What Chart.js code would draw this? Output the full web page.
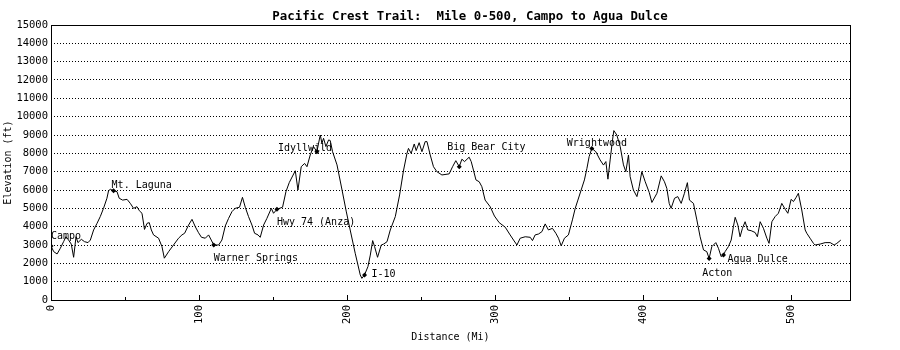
<!DOCTYPE html>
<html>
<head>
<meta charset="utf-8">
<script src="https://cdn.jsdelivr.net/npm/chart.js@4.4.1/dist/chart.umd.min.js"></script>
<style>
  body { margin: 0; background: #fff; }
  canvas { display: block; }
</style>
</head>
<body>
<canvas id="profile" width="900" height="350"></canvas>
<script>
const miles = [
  0, 1.8, 4.1, 6.3, 8.5, 10.1, 11.9, 13.7, 15.3, 16.9, 18.2, 20.5, 22.7, 25.0, 26.6, 28.8,
  31.1, 33.3, 35.5, 37.8, 38.9, 40.1, 42.3, 44.6, 46.1, 48.4, 51.4, 53.6, 55.8, 58.1, 59.7,
  61.5, 63.2, 64.9, 66.4, 67.8, 69.3, 72.7, 75.0, 76.6, 79.5, 82.8, 86.2, 88.5, 90.3, 93.0,
  95.3, 97.5, 99.7, 101.7, 104.3, 106.5, 108.3, 110.0, 113.3, 115.5, 117.8, 120.0, 122.3,
  124.5, 127.4, 129.4, 131.3, 133.5, 135.8, 137.6, 139.9, 141.4, 143.7, 145.9, 148.9, 150.4,
  152.7, 156.5, 158.8, 161.0, 165.1, 166.9, 169.1, 171.4, 173.0, 175.2, 177.4, 179.7, 181.3,
  182.0, 183.1, 184.2, 185.8, 187.6, 188.7, 190.3, 193.3, 196.7, 199.5, 202.2, 205.6, 209.0,
  210.1, 211.9, 214.2, 215.8, 217.4, 218.7, 220.7, 223.2, 224.8, 227.1, 229.3, 232.7, 235.6,
  238.3, 240.6, 241.6, 243.4, 245.5, 246.8, 248.8, 250.7, 252.9, 254.1, 256.3, 258.5, 260.8,
  264.2, 269.1, 271.4, 273.6, 275.9, 277.7, 279.5, 282.6, 284.0, 285.5, 287.2, 289.4, 291.2,
  293.4, 296.8, 299.7, 302.9, 307.0, 310.3, 312.6, 314.9, 317.1, 320.5, 323.9, 325.4, 327.2,
  329.5, 331.8, 334.0, 336.2, 338.9, 341.2, 343.0, 344.8, 347.0, 349.7, 352.4, 354.3, 356.1,
  358.3, 360.5, 362.2, 363.7, 365.5, 368.2, 371.1, 373.4, 375.0, 376.4, 377.9, 379.5, 380.4,
  382.4, 384.7, 386.9, 388.5, 390.3, 391.4, 393.6, 396.0, 397.5, 399.3, 401.6, 404.3, 406.1,
  409.5, 412.4, 414.6, 416.2, 417.8, 419.1, 421.4, 423.6, 425.9, 428.1, 430.1, 431.5, 434.2,
  436.5, 438.7, 441.0, 443.2, 444.8, 446.6, 449.3, 451.1, 452.9, 454.5, 455.6, 457.8, 459.7,
  461.2, 462.4, 464.2, 465.7, 467.3, 469.1, 470.9, 473.2, 475.9, 477.4, 479.3, 481.5, 483.8,
  485.3, 487.2, 489.4, 491.6, 493.9, 496.2, 498.0, 500.2, 501.8, 503.6, 505.1, 507.4, 509.7,
  510.8, 513.0, 515.3, 516.4, 519.8, 523.2, 526.6, 529.3, 531.1, 533.8
];
const elevation = [
  2950, 2640, 2510, 2820, 3180, 3450, 3270, 3050, 2330, 3450, 3130, 3310, 3180, 3130, 3270, 3820,
  4180, 4550, 5000, 5550, 5960, 6040, 5960, 5910, 5550, 5450, 5490, 5270, 5000, 5090, 4870,
  4730, 3850, 4180, 4220, 3820, 3550, 3370, 2910, 2280, 2640, 3000, 3370, 3550, 3640, 4090,
  4400, 4000, 3670, 3420, 3370, 3550, 3270, 3000, 3000, 3270, 4040, 4450, 4820,
  5000, 5060, 5600, 5060, 4550, 4090, 3640, 3550, 3420, 4090, 4450, 5000, 4730,
  4950, 5060, 5910, 6400, 7050, 6000, 7270, 7450, 7270, 7910, 8370, 8090, 8730,
  9000, 8550, 8820, 8370, 8730, 8700, 8090, 7370, 6000, 4850, 3820, 2550, 1370,
  1180, 1370, 1820, 2450, 3240, 2910, 2330, 3000, 3050, 3180, 3820, 4550, 5730,
  7090, 8000, 8270, 8000, 8510, 8150, 8580, 8090, 8640, 8640, 7910, 7270, 7000,
  6820, 6880, 7270, 7600, 7270, 7680, 7550, 7790, 7550, 7090, 6550, 6450, 6180,
  5450, 5090, 4580, 4220, 3970, 3550, 3270, 3000, 3370, 3450, 3420, 3240, 3550,
  3600, 3730, 4150, 3820, 3910, 3640, 3370, 2950, 3370, 3550, 4370, 5000, 5450,
  6000, 6550, 7180, 7820, 8270, 8090, 7640, 7360, 7550, 6590, 7640, 8730, 9240,
  9000, 8370, 7370, 7000, 7910, 6730, 6000, 5640, 6180, 7000, 6450, 5870, 5320,
  5820, 6770, 6450, 6090, 5270, 5000, 5550, 5640, 5270, 5820, 6400, 5450, 5270,
  4370, 3450, 2730, 2640, 2270, 2910, 3130, 2820, 2370, 2450, 2640, 2910, 3270,
  4000, 4510, 4090, 3450, 3910, 4270, 3820, 3780, 3680, 3450, 4270, 3910, 3370,
  3090, 4270, 4550, 4730, 5270, 4950, 4730, 5490, 5370, 5600, 5820, 4910, 3820,
  3640, 3370, 3090, 3000, 3050, 3130, 3130, 3000, 3090, 3270
];

const landmarkNames = [
  "Campo", "Mt. Laguna", "Warner Springs", "Hwy 74 (Anza)", "Idyllwild",
  "I-10", "Big Bear City", "Wrightwood", "Acton", "Agua Dulce"
];
const landmarkMiles = [0, 42.3, 110.0, 152.7, 179.7, 211.9, 275.9, 365.5, 444.8, 454.5];
const landmarkElevation = [2950, 5960, 3000, 4950, 8090, 1370, 7270, 8270, 2270, 2450];

const xTickValues = [0, 100, 200, 300, 400, 500];
const yTickValues = [0, 1000, 2000, 3000, 4000, 5000, 6000, 7000, 8000,
  9000, 10000, 11000, 12000, 13000, 14000, 15000];

// name placement next to each marker, in pixels (dx, dy)
const labelOffsets = [
  [0, -10], [-2, -5], [0, 13], [0, 13], [-39, -3],
  [7, 0], [-12, -19], [-25, -5], [-7, 15], [4, 4]
];

const MONO = "'DejaVu Sans Mono', monospace";
const TITLE = "Pacific Crest Trail:  Mile 0-500, Campo to Agua Dulce";

const frame = {
  id: "frame",
  beforeDraw(chart) {
    const ctx = chart.ctx;
    ctx.save();
    ctx.fillStyle = "#fff";
    ctx.fillRect(0, 0, chart.width, chart.height);
    ctx.restore();
  },
  afterDatasetsDraw(chart) {
    const ctx = chart.ctx;
    const meta = chart.getDatasetMeta(1);
    ctx.save();
    ctx.fillStyle = "#000";
    ctx.font = "10px " + MONO;
    ctx.textAlign = "left";
    ctx.textBaseline = "middle";
    meta.data.forEach(function (pt, i) {
      const off = labelOffsets[i];
      ctx.fillText(landmarkNames[i], pt.x + off[0], pt.y + off[1]);
    });
    ctx.restore();
  },
  afterDraw(chart) {
    const ctx = chart.ctx;
    const a = chart.chartArea;
    const x = chart.scales.x;
    ctx.save();
    ctx.strokeStyle = "#000";
    ctx.lineWidth = 1;
    ctx.strokeRect(Math.round(a.left) + 0.5, Math.round(a.top) + 0.5,
      Math.round(a.right - a.left), Math.round(a.bottom - a.top));

    // tick marks point up into the plot: long at 100s, short at 50s
    ctx.beginPath();
    for (let v = 0; v <= x.max; v += 50) {
      const px = Math.round(x.getPixelForValue(v)) + 0.5;
      const len = v % 100 === 0 ? 5 : 3;
      ctx.moveTo(px, a.bottom);
      ctx.lineTo(px, a.bottom - len);
    }
    ctx.stroke();

    ctx.fillStyle = "#000";
    ctx.font = "bold 12.4px " + MONO;
    ctx.textAlign = "center";
    ctx.textBaseline = "middle";
    ctx.fillText(TITLE, 470, 17);
    ctx.restore();
  }
};

const ctx = document.getElementById("profile").getContext("2d");
const profileChart = new Chart(ctx, {
  type: "line",
  data: {
    datasets: [
      {
        label: "Elevation",
        data: miles.map(function (m, i) { return { x: m, y: elevation[i] }; }),
        borderColor: "#000",
        borderWidth: 1,
        pointRadius: 0,
        tension: 0,
        fill: false
      },
      {
        label: "Landmarks",
        data: landmarkMiles.map(function (m, i) { return { x: m, y: landmarkElevation[i] }; }),
        showLine: false,
        pointStyle: "rectRot",
        pointRadius: 2.5,
        backgroundColor: "#000",
        borderColor: "#000",
        borderWidth: 0
      }
    ]
  },
  options: {
    responsive: false,
    animation: false,
    layout: { padding: { top: 25, right: 50, left: 0, bottom: 0 } },
    plugins: {
      legend: { display: false },
      tooltip: { enabled: false }
    },
    scales: {
      x: {
        type: "linear",
        min: 0,
        max: 540,
        afterBuildTicks: function (scale) {
          scale.ticks = xTickValues.map(function (v) { return { value: v }; });
        },
        afterFit: function (scale) { scale.height = 50; },
        grid: { display: false, drawTicks: false },
        border: { display: false },
        ticks: {
          minRotation: 90,
          maxRotation: 90,
          padding: 5,
          color: "#000",
          font: { family: MONO, size: 10.5 },
          callback: function (v) { return String(v); }
        },
        title: {
          display: true,
          text: "Distance (Mi)",
          color: "#000",
          font: { family: MONO, size: 10 },
          padding: { top: 0, bottom: 7 }
        }
      },
      y: {
        min: 0,
        max: 15000,
        afterBuildTicks: function (scale) {
          scale.ticks = yTickValues.map(function (v) { return { value: v }; });
        },
        afterFit: function (scale) { scale.width = 51; },
        grid: { color: "#000", lineWidth: 1, drawTicks: false },
        border: { display: false, dash: [1, 2] },
        ticks: {
          padding: 3,
          color: "#000",
          font: { family: MONO, size: 10.5 },
          callback: function (v) { return String(v); }
        },
        title: {
          display: true,
          text: "Elevation (ft)",
          color: "#000",
          font: { family: MONO, size: 10 },
          padding: { top: 2, bottom: 0 }
        }
      }
    }
  },
  plugins: [frame]
});
</script>
</body>
</html>
